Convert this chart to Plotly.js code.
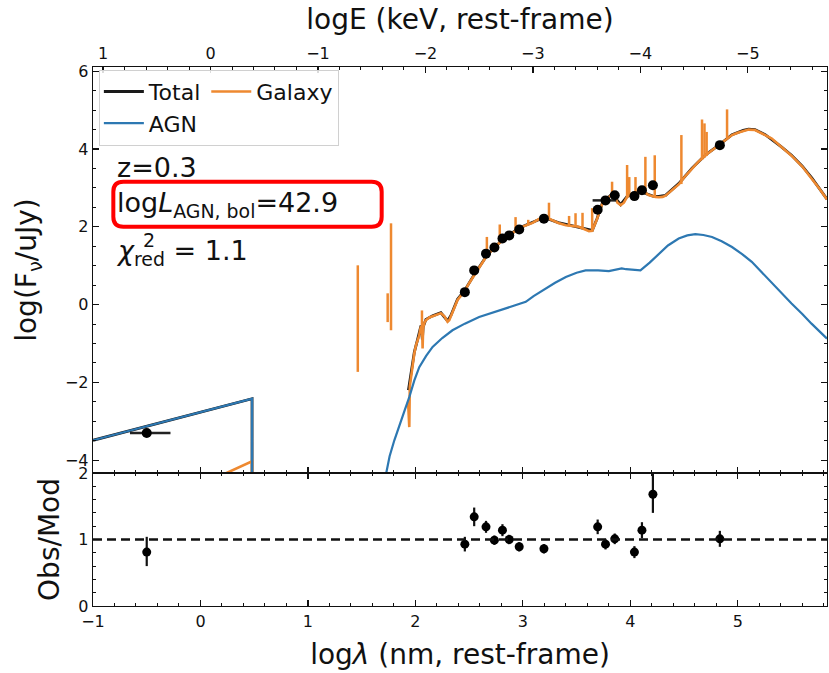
<!DOCTYPE html>
<html>
<head>
<meta charset="utf-8">
<script src="https://cdn.plot.ly/plotly-3.0.1.min.js"></script>
<style>html,body{margin:0;padding:0;background:#fff;}</style>
</head>
<body>
<div id="chart" style="width:829px;height:673px;"></div>
<script>
// ---------- data (log wavelength in nm, rest frame) ----------
const photLogLam = [-0.50, 2.46, 2.547, 2.657, 2.735, 2.81, 2.873, 2.966, 3.196, 3.696, 3.769, 3.855, 4.038, 4.108, 4.21, 4.833];
const photLogF   = [-3.30, 0.32, 0.88, 1.31, 1.47, 1.70, 1.78, 1.93, 2.21, 2.44, 2.68, 2.81, 2.79, 2.94, 3.07, 4.10];
const photXerrMinus = [0.156, 0, 0, 0, 0, 0, 0, 0, 0, 0, 0.12, 0, 0, 0, 0, 0];
const photXerrPlus  = [0.221, 0, 0, 0, 0, 0, 0, 0, 0, 0, 0.10, 0, 0, 0, 0, 0];
const ratio         = [0.81, 0.93, 1.34, 1.19, 0.99, 1.14, 1.00, 0.89, 0.86, 1.19, 0.93, 1.01, 0.81, 1.14, 1.68, 1.01];
const ratioErrPlus  = [0.23, 0.11, 0.14, 0.09, 0.07, 0.09, 0.07, 0.07, 0.07, 0.11, 0.08, 0.08, 0.09, 0.12, 0.32, 0.12];
const ratioErrMinus = [0.21, 0.11, 0.14, 0.09, 0.07, 0.09, 0.07, 0.07, 0.07, 0.11, 0.08, 0.08, 0.09, 0.12, 0.28, 0.12];

const totLogLam = [-1.0, 0.48, 0.48, null, 1.935, 1.95, 1.962, 1.974, 1.99, 2.02,
  2.052, 2.065, 2.072, 2.098, 2.16, 2.237, 2.299, 2.33, 2.392, 2.46,
  2.547, 2.657, 2.735, 2.81, 2.873, 2.966, 3.09, 3.196, 3.33, 3.46,
  3.58, 3.646, 3.69, 3.74, 3.769, 3.83, 3.91, 3.97, 4.038, 4.108,
  4.21, 4.265, 4.327, 4.45, 4.574, 4.70, 4.833, 4.946, 5.05, 5.10,
  5.16, 5.255, 5.40, 5.50, 5.60, 5.69, 5.83];
const totLogF = [-3.49, -2.42, -9, null, -2.2, -1.9, -1.68, -1.42, -1.22, -0.9,
  -0.54, -0.9, -0.58, -0.38, -0.29, -0.21, -0.42, -0.28, 0.14, 0.37,
  0.77, 1.23, 1.48, 1.65, 1.79, 1.97, 2.11, 2.24, 2.11, 2.03,
  1.94, 1.91, 2.21, 2.61, 2.69, 2.85, 2.57, 2.78, 2.87, 2.89,
  2.79, 2.78, 2.81, 3.11, 3.51, 3.85, 4.12, 4.37, 4.48, 4.51,
  4.50, 4.37, 4.07, 3.84, 3.56, 3.25, 2.71];

const galLogLam = [-1.0, 0.48, 0.48, null, 1.932, 1.943, 1.948, 1.955, 1.962, 1.974,
  1.99, 2.005, 2.02, 2.035, 2.045, 2.052, 2.058, 2.064, 2.067, 2.072,
  2.085, 2.098, 2.13, 2.16, 2.2, 2.237, 2.27, 2.299, 2.315, 2.33,
  2.36, 2.392, 2.43, 2.46, 2.5, 2.547, 2.6, 2.63, 2.657, 2.7,
  2.735, 2.77, 2.81, 2.84, 2.873, 2.92, 2.966, 3.02, 3.09, 3.15,
  3.196, 3.25, 3.33, 3.40, 3.46, 3.52, 3.58, 3.615, 3.646, 3.661,
  3.69, 3.72, 3.74, 3.769, 3.80, 3.83, 3.855, 3.88, 3.91, 3.94,
  3.97, 4.0, 4.038, 4.065, 4.108, 4.14, 4.17, 4.21, 4.234, 4.265,
  4.3, 4.327, 4.38, 4.45, 4.51, 4.574, 4.636, 4.70, 4.76, 4.833,
  4.88, 4.915, 4.946, 5.0, 5.05, 5.10, 5.16, 5.21, 5.255, 5.316,
  5.40, 5.50, 5.60, 5.69, 5.76, 5.83];
const galLogF = [-5.90, -4.03, -9, null, -2.5, -3.15, -2.1, -1.95, -1.7, -1.45,
  -1.25, -1.05, -0.92, -0.8, -0.64, -0.56, -0.65, -0.75, -1.13, -0.6,
  -0.46, -0.40, -0.33, -0.30, -0.25, -0.22, -0.30, -0.44, -0.40, -0.30,
  -0.08, 0.12, 0.25, 0.36, 0.55, 0.76, 1.0, 1.12, 1.22, 1.36,
  1.47, 1.56, 1.64, 1.72, 1.78, 1.88, 1.96, 2.03, 2.10, 2.2,
  2.23, 2.2, 2.1, 2.04, 2.02, 2.0, 1.93, 1.89, 1.9, 2.0,
  2.2, 2.45, 2.6, 2.68, 2.75, 2.84, 2.78, 2.62, 2.56, 2.62,
  2.77, 2.83, 2.86, 2.86, 2.88, 2.88, 2.82, 2.78, 2.77, 2.76,
  2.77, 2.80, 2.92, 3.09, 3.3, 3.50, 3.68, 3.84, 3.97, 4.11,
  4.22, 4.30, 4.36, 4.42, 4.47, 4.50, 4.49, 4.43, 4.36, 4.27,
  4.06, 3.83, 3.55, 3.24, 2.98, 2.70];

// emission-line spikes of the galaxy model
const lineLogLam = [1.464, 1.742, 1.773, 2.061, 2.665, 2.785, 2.932, 3.05, 3.243, 3.43, 3.49, 3.555, 3.645, 3.83, 3.97, 3.99, 4.048, 4.14, 4.227, 4.475, 4.667, 4.69, 4.71, 4.90];
const lineBase   = [-1.73, -0.45, -0.66, -0.62, 1.20, 1.60, 1.92, 2.05, 2.20, 2.03, 2.01, 1.96, 1.90, 2.84, 2.76, 2.80, 2.86, 2.88, 2.77, 3.10, 3.72, 3.78, 3.82, 4.29];
const lineTop    = [1.01, 0.29, 2.09, -0.15, 1.74, 2.06, 2.25, 2.18, 2.62, 2.28, 2.35, 2.36, 2.48, 3.16, 3.59, 3.28, 3.28, 3.80, 3.84, 4.36, 4.76, 4.66, 4.44, 5.02];

const agnLogLam = [-1.0, 0.48, 0.48, null, 1.68, 1.727, 1.76, 1.804, 1.85, 1.90,
  1.943, 1.99, 2.036, 2.10, 2.16, 2.25, 2.345, 2.46, 2.593, 2.75,
  2.90, 3.027, 3.10, 3.21, 3.30, 3.40, 3.50, 3.584, 3.70, 3.80,
  3.87, 3.92, 3.96, 4.00, 4.094, 4.18, 4.265, 4.35, 4.45, 4.53,
  4.605, 4.68, 4.76, 4.85, 4.946, 5.04, 5.13, 5.22, 5.316, 5.41,
  5.50, 5.60, 5.686, 5.83];
const agnLogF = [-3.49, -2.42, -9, null, -5.0, -4.31, -3.9, -3.49, -3.1, -2.72,
  -2.38, -1.95, -1.61, -1.32, -1.09, -0.86, -0.66, -0.49, -0.32, -0.18,
  -0.06, 0.07, 0.22, 0.41, 0.56, 0.71, 0.82, 0.88, 0.88, 0.86,
  0.90, 0.93, 0.91, 0.90, 0.88, 1.08, 1.31, 1.52, 1.70, 1.78,
  1.81, 1.79, 1.74, 1.63, 1.48, 1.30, 1.10, 0.84, 0.54, 0.29,
  0.03, -0.24, -0.49, -0.875];

const xRange = [-1, 5.83];
const eRange = [1.0934, -5.7366];   // logE(keV) = log(1.2398) - log(lambda/nm)

// ---------- styling ----------
const C_GAL = 'rgb(238,137,48)';
const C_AGN = 'rgb(45,120,178)';

// spikes as vertical segments
const spikeX = [], spikeY = [];
lineLogLam.forEach((x, i) => { spikeX.push(x, x, null); spikeY.push(lineBase[i], lineTop[i], null); });

const traces = [
  {x: totLogLam, y: totLogF, type: 'scatter', mode: 'lines', name: 'Total', legendgroup: 'g1',
   line: {color: '#1a1a1a', width: 2.8}, xaxis: 'x', yaxis: 'y', hoverinfo: 'skip'},
  {x: galLogLam, y: galLogF, type: 'scatter', mode: 'lines', name: 'Galaxy', legendgroup: 'g2',
   line: {color: C_GAL, width: 2.6}, xaxis: 'x', yaxis: 'y', hoverinfo: 'skip'},
  {x: spikeX, y: spikeY, type: 'scatter', mode: 'lines', name: 'Galaxy lines', legendgroup: 'g2', showlegend: false,
   line: {color: C_GAL, width: 2.5}, xaxis: 'x', yaxis: 'y', hoverinfo: 'skip'},
  {x: agnLogLam, y: agnLogF, type: 'scatter', mode: 'lines', name: 'AGN', legendgroup: 'g1',
   line: {color: C_AGN, width: 2.2}, xaxis: 'x', yaxis: 'y', hoverinfo: 'skip'},
  {x: photLogLam, y: photLogF, type: 'scatter', mode: 'markers', name: 'data', showlegend: false,
   marker: {color: 'black', size: 10},
   error_x: {type: 'data', array: photXerrPlus, arrayminus: photXerrMinus, color: '#222', thickness: 2.5, width: 0},
   xaxis: 'x', yaxis: 'y', hoverinfo: 'skip'},
  {x: photLogLam, y: ratio, type: 'scatter', mode: 'markers', name: 'ratio', showlegend: false,
   marker: {color: 'black', size: 9},
   error_y: {type: 'data', array: ratioErrPlus, arrayminus: ratioErrMinus, color: '#111', thickness: 2.2, width: 0},
   xaxis: 'x2', yaxis: 'y2', hoverinfo: 'skip'},
  // empty trace so that the top (energy) axis is drawn
  {x: [], y: [], type: 'scatter', mode: 'lines', showlegend: false, xaxis: 'x3', yaxis: 'y', hoverinfo: 'skip'}
];

const tickFont = {family: 'DejaVu Sans', size: 16, color: '#111'};
const titleFont = {family: 'DejaVu Sans', size: 28, color: '#111'};
const axCommon = {ticks: 'inside', ticklen: 6, tickwidth: 1.2, tickcolor: '#111', showline: true, linecolor: '#111', linewidth: 1.3,
  showgrid: false, zeroline: false, tickfont: tickFont};
const minorX = {dtick: 0.2, tick0: 0, ticks: 'inside', ticklen: 3, tickcolor: '#111', tickwidth: 1};

// rounded red box (paper coordinates)
const bx0 = 0.0277, bx1 = 0.3933, by0 = 0.7037, by1 = 0.7872, rx = 0.0136, ry = 0.0186;
const boxPath = `M ${bx0+rx},${by1} L ${bx1-rx},${by1} Q ${bx1},${by1} ${bx1},${by1-ry} L ${bx1},${by0+ry} Q ${bx1},${by0} ${bx1-rx},${by0} L ${bx0+rx},${by0} Q ${bx0},${by0} ${bx0},${by0+ry} L ${bx0},${by1-ry} Q ${bx0},${by1} ${bx0+rx},${by1} Z`;

const annFont = {family: 'DejaVu Sans', size: 27, color: '#111'};
const layout = {
  width: 829, height: 673,
  margin: {l: 93, r: 2, t: 67, b: 67, pad: 0},
  paper_bgcolor: 'white', plot_bgcolor: 'white',
  font: {family: 'DejaVu Sans', color: '#111'},
  showlegend: true,
  legend: {x: 0.008, y: 0.995, xanchor: 'left', yanchor: 'top', orientation: 'h', traceorder: 'grouped',
    tracegroupgap: 0, itemwidth: 40, bgcolor: 'rgba(255,255,255,0.85)', bordercolor: '#d0d0d0', borderwidth: 1,
    font: {family: 'DejaVu Sans', size: 22, color: '#111'}},
  xaxis: Object.assign({}, axCommon, {domain: [0, 1], anchor: 'y', range: xRange, dtick: 1, tick0: 0,
    showticklabels: false, mirror: false, minor: minorX}),
  xaxis3: Object.assign({}, axCommon, {overlaying: 'x', side: 'top', anchor: 'y', range: eRange, dtick: 1, tick0: 0,
    minor: minorX, title: {text: 'logE (keV, rest-frame)', font: titleFont, standoff: 6}}),
  yaxis: Object.assign({}, axCommon, {domain: [0.2468, 1], anchor: 'x', range: [-4.33, 6.11], dtick: 2, tick0: 0,
    mirror: 'ticks',
    minor: {dtick: 0.5, tick0: 0, ticks: 'inside', ticklen: 3, tickcolor: '#111', tickwidth: 1},
    title: {text: 'log(F<sub>ν</sub>/uJy)', font: titleFont, standoff: 20}}),
  xaxis2: Object.assign({}, axCommon, {domain: [0, 1], anchor: 'y2', range: xRange, dtick: 1, tick0: 0,
    mirror: 'ticks', minor: minorX,
    title: {text: 'log<i>λ</i> (nm, rest-frame)', font: titleFont, standoff: 15}}),
  yaxis2: Object.assign({}, axCommon, {domain: [0, 0.2468], anchor: 'x2', range: [0, 2], dtick: 1, tick0: 0,
    mirror: 'ticks',
    minor: {dtick: 0.2, tick0: 0, ticks: 'inside', ticklen: 3, tickcolor: '#111', tickwidth: 1},
    title: {text: 'Obs/Mod', font: titleFont, standoff: 10}}),
  shapes: [
    {type: 'line', xref: 'x2 domain', yref: 'y2', x0: 0, x1: 1, y0: 1, y1: 1,
     line: {color: '#111', width: 2.5, dash: '9px,5px'}},
    {type: 'path', xref: 'paper', yref: 'paper', path: boxPath, line: {color: '#ff0000', width: 4}, fillcolor: 'rgba(0,0,0,0)'}
  ],
  annotations: [
    {xref: 'paper', yref: 'paper', x: 0.030, y: 0.8135, xanchor: 'left', yanchor: 'middle', showarrow: false,
     text: 'z=0.3', font: annFont},
    {xref: 'paper', yref: 'paper', x: 0.030, y: 0.745, xanchor: 'left', yanchor: 'middle', showarrow: false,
     text: 'log<i>L</i><sub>AGN, bol</sub>=42.9', font: annFont},
    {xref: 'paper', yref: 'paper', x: 0.028, y: 0.655, xanchor: 'left', yanchor: 'middle', showarrow: false,
     text: '<i>χ</i><sub>red</sub> = 1.1', font: annFont},
    {xref: 'paper', yref: 'paper', x: 0.066, y: 0.679, xanchor: 'left', yanchor: 'middle', showarrow: false,
     text: '2', font: {family: 'DejaVu Sans', size: 19, color: '#111'}}
  ]
};

Plotly.newPlot('chart', traces, layout, {displayModeBar: false, staticPlot: true});
</script>
</body>
</html>
